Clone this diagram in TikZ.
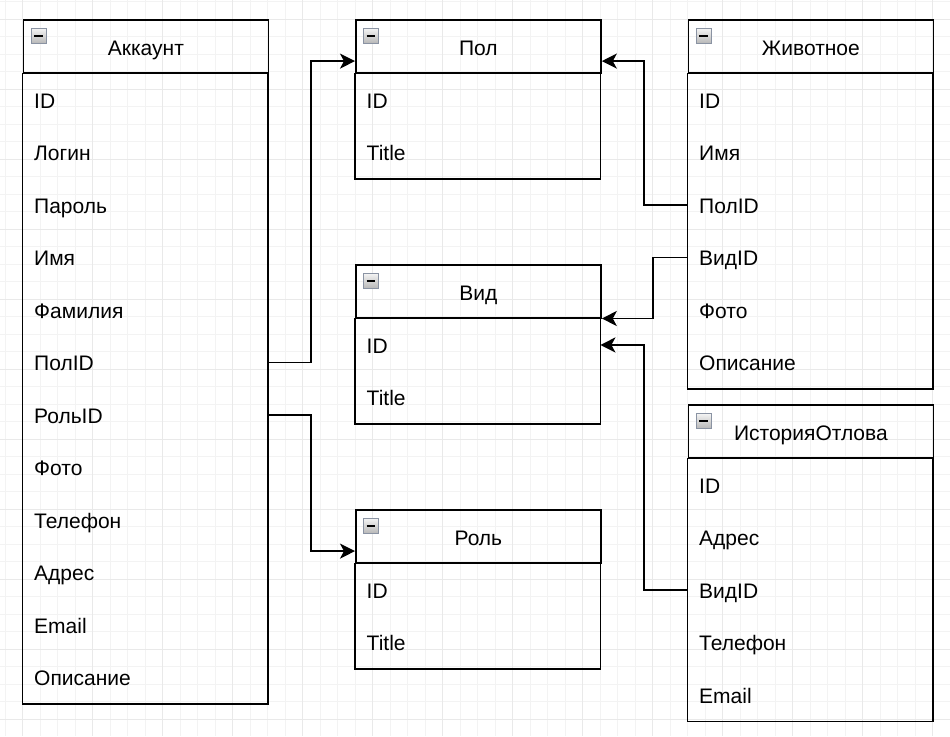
\documentclass[tikz,border=0pt]{standalone}
\usepackage{fontspec}
\setmainfont{Liberation Sans}
\usetikzlibrary{calc,arrows.meta}
\definecolor{gridminor}{HTML}{F3F3F3}
\definecolor{gridmajor}{HTML}{E9E9E9}
\definecolor{iconborder}{HTML}{8A93A3}
\tikzset{
  gridline/.style={draw=gridminor, line width=0.9pt},
  gridmaj/.style={draw=gridmajor, line width=0.9pt},
  hdrbox/.style={draw=black, line width=1.8pt, minimum width=245pt, minimum height=52.5pt, inner sep=0pt, anchor=north west},
  rowbox/.style={minimum width=245pt, minimum height=52.5pt, inner sep=0pt, anchor=north west},
  frame/.style={draw=black, line width=1.8pt},
  ttl/.style={anchor=base, inner sep=0pt, font=\fontsize{21}{25}\selectfont},
  rowtxt/.style={anchor=base west, inner sep=0pt, font=\fontsize{21}{25}\selectfont},
  icon/.style={minimum size=15pt, inner sep=0pt, draw=iconborder, line width=1pt,
    top color=white!96!black, bottom color=black!28,
    path picture={\draw[black, line width=2.4pt]
      ([xshift=-4.3pt]path picture bounding box.center) -- ([xshift=4.3pt]path picture bounding box.center);}},
  conn/.style={draw=black, line width=1.8pt, -{Stealth[length=15pt,width=15pt,inset=4pt]}}
}
\newcommand{\ertable}[6]{%
  \node[hdrbox] (#1-h) at (#2,#3) {};
  \node[ttl] (#1-t) at ($(#1-h.center)+(0,9.5)$) {#4};
  \node[icon] (#1-i) at ($(#1-h.north west)+(16,16.5)$) {};
  \foreach \txt [count=\i] in {#6} {
    \node[rowbox] (#1-r\i) at ($(#1-h.south west)+(0,{52.5*(\i-1)})$) {};
    \node[rowtxt] (#1-l\i) at ($(#1-r\i.west)+(11.5,8.5)$) {\txt};
  }
  \draw[frame] (#1-h.south west) rectangle (#1-r#5.south east);
}
\begin{document}
\begin{tikzpicture}[x=1pt,y=-1pt]
\useasboundingbox (0,0) rectangle (950,736);
\fill[white] (0,0) rectangle (950,736);
\foreach \k in {0,...,54} \draw[gridline] ({5+17.5*\k},0) -- ({5+17.5*\k},736);
\foreach \k in {0,...,41} \draw[gridline] (0,{1.7+17.5*\k}) -- (950,{1.7+17.5*\k});
\foreach \k in {1,5,...,53} \draw[gridmaj] ({5+17.5*\k},0) -- ({5+17.5*\k},736);
\foreach \k in {1,5,...,41} \draw[gridmaj] (0,{1.7+17.5*\k}) -- (950,{1.7+17.5*\k});

\ertable{acc}{22.5}{19.2}{Аккаунт}{12}{ID,Логин,Пароль,Имя,Фамилия,ПолID,РольID,Фото,Телефон,Адрес,Email,Описание}
\ertable{pol}{355}{19.2}{Пол}{2}{ID,Title}
\ertable{vid}{355}{264.2}{Вид}{2}{ID,Title}
\ertable{rol}{355}{509.2}{Роль}{2}{ID,Title}
\ertable{ani}{687.5}{19.2}{Животное}{6}{ID,Имя,ПолID,ВидID,Фото,Описание}
\ertable{ist}{687.5}{404.2}{ИсторияОтлова}{5}{ID,Адрес,ВидID,Телефон,Email}

\draw[conn] (acc-r6.east) -- ++(43.2,0) |- ($(pol-h.south west)+(0,-12.4)$);
\draw[conn] (acc-r7.east) -- ++(43.2,0) |- ($(rol-h.south west)+(0,-12.4)$);
\draw[conn] (ani-r3.west) -- ++(-43.5,0) |- ($(pol-h.south east)+(0,-12.4)$);
\draw[conn] (ani-r4.west) -- ++(-34.5,0) |- (vid-h.south east);
\draw[conn] (ist-r3.west) -- ++(-43.5,0) |- (vid-r1.east);
\end{tikzpicture}
\end{document}
